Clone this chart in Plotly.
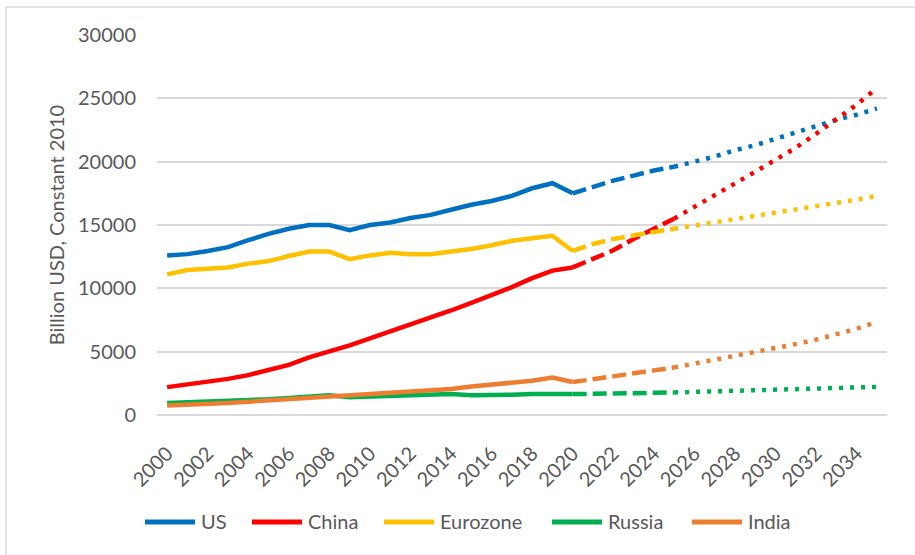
import plotly.graph_objects as go

years = list(range(2000, 2036))
tick_years = list(range(2000, 2035, 2))

us = [12600, 12700, 12950, 13250, 13800, 14300, 14700, 15000, 15000, 14600,
      15000, 15200, 15550, 15800, 16200, 16600, 16900, 17300, 17900, 18300,
      17500, 18000, 18500, 18900, 19300, 19600, 20000, 20400, 20900, 21300,
      21800, 22300, 22800, 23300, 23700, 24200]
china = [2200, 2400, 2600, 2850, 3150, 3550, 3950, 4550, 5000, 5500,
         6050, 6600, 7100, 7700, 8250, 8850, 9450, 10100, 10800, 11400,
         11650, 12300, 13000, 13900, 14700, 15500, 16400, 17300, 18300, 19200,
         20150, 21100, 22200, 23300, 24500, 25800]
eurozone = [11100, 11450, 11550, 11650, 11950, 12150, 12550, 12900, 12900, 12300,
            12600, 12800, 12700, 12700, 12900, 13100, 13400, 13750, 13950, 14150,
            12950, 13500, 13900, 14200, 14450, 14700, 14950, 15200, 15450, 15700,
            15950, 16250, 16500, 16750, 17000, 17300]
russia = [950, 1000, 1050, 1100, 1200, 1250, 1350, 1450, 1550, 1400,
          1450, 1500, 1550, 1600, 1650, 1550, 1550, 1600, 1650, 1650,
          1650, 1650, 1700, 1720, 1750, 1780, 1820, 1860, 1900, 1940,
          1980, 2030, 2080, 2120, 2170, 2220]
india = [750, 800, 850, 950, 1050, 1150, 1250, 1350, 1400, 1500,
         1650, 1700, 1800, 1950, 2050, 2250, 2400, 2600, 2700, 2950,
         2600, 2800, 3050, 3300, 3550, 3750, 4050, 4350, 4700, 4950,
         5250, 5600, 5950, 6350, 6800, 7350]

names = ["US", "China", "Eurozone", "Russia", "India"]
colors = ["#0070C0", "#FF0000", "#FFC000", "#00B050", "#ED7D31"]
values = [us, china, eurozone, russia, india]

i_hist_end = years.index(2020)
i_dash_end = years.index(2025)

FONT = "Lato, 'Liberation Sans', sans-serif"
TXT = "#595959"
GRID = "#D9D9D9"
LW = 4.5

fig = go.Figure()
for name, vals, col in zip(names, values, colors):
    fig.add_trace(go.Scatter(x=years[:i_hist_end + 1], y=vals[:i_hist_end + 1], mode="lines",
                             name=name, legendgroup=name, showlegend=False,
                             line=dict(color=col, width=LW)))
    fig.add_trace(go.Scatter(x=years[i_hist_end:i_dash_end + 1], y=vals[i_hist_end:i_dash_end + 1],
                             mode="lines", name=name, legendgroup=name, showlegend=False,
                             line=dict(color=col, width=LW, dash="14px,6px")))
    fig.add_trace(go.Scatter(x=years[i_dash_end:], y=vals[i_dash_end:], mode="lines",
                             name=name, legendgroup=name, showlegend=False,
                             line=dict(color=col, width=LW, dash="4px,7px")))

L, R, T, B = 157, 28, 35, 140
W, H = 915, 555
pw, ph = W - L - R, H - T - B

def px_x(x):
    return (x - L) / pw

def px_y(y):
    return (H - B - y) / ph

# manual legend (pixel layout)
leg_y = 521
leg_line_x0 = [143, 250, 382, 550, 690]
leg_line_len = 54
shapes = [
    dict(type="line", xref="paper", yref="paper", x0=px_x(6), x1=px_x(6), y0=px_y(7), y1=px_y(600),
         line=dict(color=GRID, width=1.5)),
    dict(type="line", xref="paper", yref="paper", x0=px_x(6), x1=px_x(1000), y0=px_y(7), y1=px_y(7),
         line=dict(color=GRID, width=1.5)),
]
annotations = []
for name, col, x0 in zip(names, colors, leg_line_x0):
    shapes.append(dict(type="line", xref="paper", yref="paper",
                       x0=px_x(x0 + 2), x1=px_x(x0 + leg_line_len - 2),
                       y0=px_y(leg_y + 1), y1=px_y(leg_y + 1),
                       line=dict(color=col, width=5)))
    annotations.append(dict(text=name, xref="paper", yref="paper", x=px_x(x0 + leg_line_len + 2),
                            y=px_y(leg_y), xanchor="left", yanchor="middle", showarrow=False,
                            font=dict(size=20, color=TXT, family=FONT)))

fig.update_layout(
    width=W, height=H,
    margin=dict(l=L, r=R, t=T, b=B, pad=0),
    paper_bgcolor="white", plot_bgcolor="white",
    font=dict(family=FONT, color=TXT, size=20),
    showlegend=False,
    xaxis=dict(range=[1999.5, 2035.5], tickvals=tick_years, ticktext=[str(y) for y in tick_years],
               tickangle=-45, showgrid=False, zeroline=False, showline=False, ticks="",
               tickfont=dict(size=20, color=TXT, family=FONT), ticklabelstandoff=22),
    yaxis=dict(range=[0, 30000], dtick=5000, tickformat="d", showgrid=True, gridcolor=GRID,
               gridwidth=1.5, zeroline=True, zerolinecolor=GRID, zerolinewidth=1.5,
               showline=False, ticks="",
               tickfont=dict(size=20, color=TXT, family=FONT), ticklabelstandoff=20,
               title=dict(text="Billion USD, Constant 2010", standoff=8,
                          font=dict(size=20, color=TXT, family=FONT))),
    shapes=shapes,
    annotations=annotations,
)

fig.write_html("out.html")
